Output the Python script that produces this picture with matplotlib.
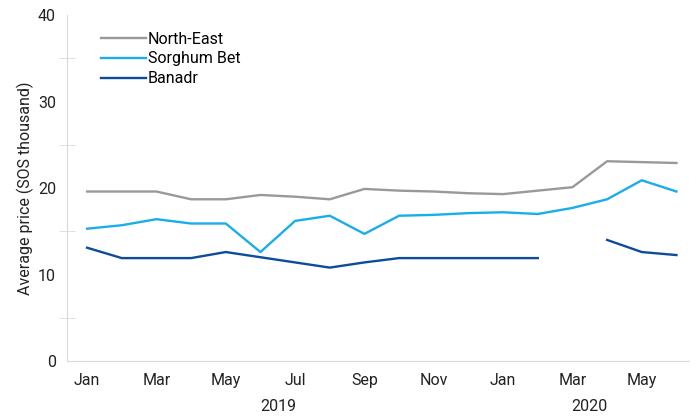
import numpy as np
import matplotlib
matplotlib.use("Agg")
from matplotlib import pyplot as plt
from matplotlib.transforms import blended_transform_factory

months = ["Jan", "Feb", "Mar", "Apr", "May", "Jun", "Jul", "Aug", "Sep", "Oct", "Nov", "Dec",
          "Jan", "Feb", "Mar", "Apr", "May", "Jun"]
years = ["2019", "2020"]
year_centres = [5.5, 14.5]

north_east = [19.6, 19.6, 19.6, 18.7, 18.7, 19.2, 19.0, 18.7, 19.9, 19.7, 19.6, 19.4,
              19.3, 19.7, 20.1, 23.1, 23.0, 22.9]
sorghum_bet = [15.3, 15.7, 16.4, 15.9, 15.9, 12.6, 16.2, 16.8, 14.7, 16.8, 16.9, 17.1,
               17.2, 17.0, 17.7, 18.7, 20.9, 19.6]
banadr = [13.1, 11.9, 11.9, 11.9, 12.6, 12.0, 11.4, 10.8, 11.4, 11.9, 11.9, 11.9,
          11.9, 11.9, np.nan, 14.0, 12.6, 12.25]

plt.rcParams["font.family"] = ["Roboto", "DejaVu Sans"]
plt.rcParams["font.size"] = 11.5

x = np.arange(len(months))

fig = plt.figure(figsize=(7, 4.2), dpi=100)
ax = fig.add_axes([0.0957, 0.1405, 0.888, 0.8235])

ax.plot(x, north_east, color="#999999", lw=1.7, label="North-East")
ax.plot(x, sorghum_bet, color="#1AADEA", lw=1.7, label="Sorghum Bet")
ax.plot(x, banadr, color="#0D4C9C", lw=1.7, label="Banadr")

ax.set_xlim(-0.58, 17.35)
ax.set_ylim(0, 40)

ax.set_xticks(x[::2])
ax.set_xticklabels(months[::2])
ax.set_yticks([0, 10, 20, 30, 40])
ax.set_yticks([5, 15, 25, 35], minor=True)
ax.tick_params(axis="both", which="major", length=0, pad=8, colors="#222222")
ax.tick_params(axis="y", which="minor", length=11, direction="inout", color="#d9d9d9")
ax.tick_params(axis="x", pad=9)

for s in ["top", "right"]:
    ax.spines[s].set_visible(False)
for s in ["left", "bottom"]:
    ax.spines[s].set_color("#d9d9d9")

trans = blended_transform_factory(ax.transData, ax.transAxes)
for yr, xc in zip(years, year_centres):
    ax.text(xc, -0.133, yr, transform=trans, ha="center", va="center", color="#222222")

ax.set_ylabel("Average price (SOS thousand)", labelpad=3, color="#222222")

ax.legend(loc="upper left", bbox_to_anchor=(0.04, 0.98), frameon=False,
          handlelength=2.8, handletextpad=0.1, labelspacing=0.3, borderaxespad=0.2)

fig.savefig("out.png", dpi=100)
